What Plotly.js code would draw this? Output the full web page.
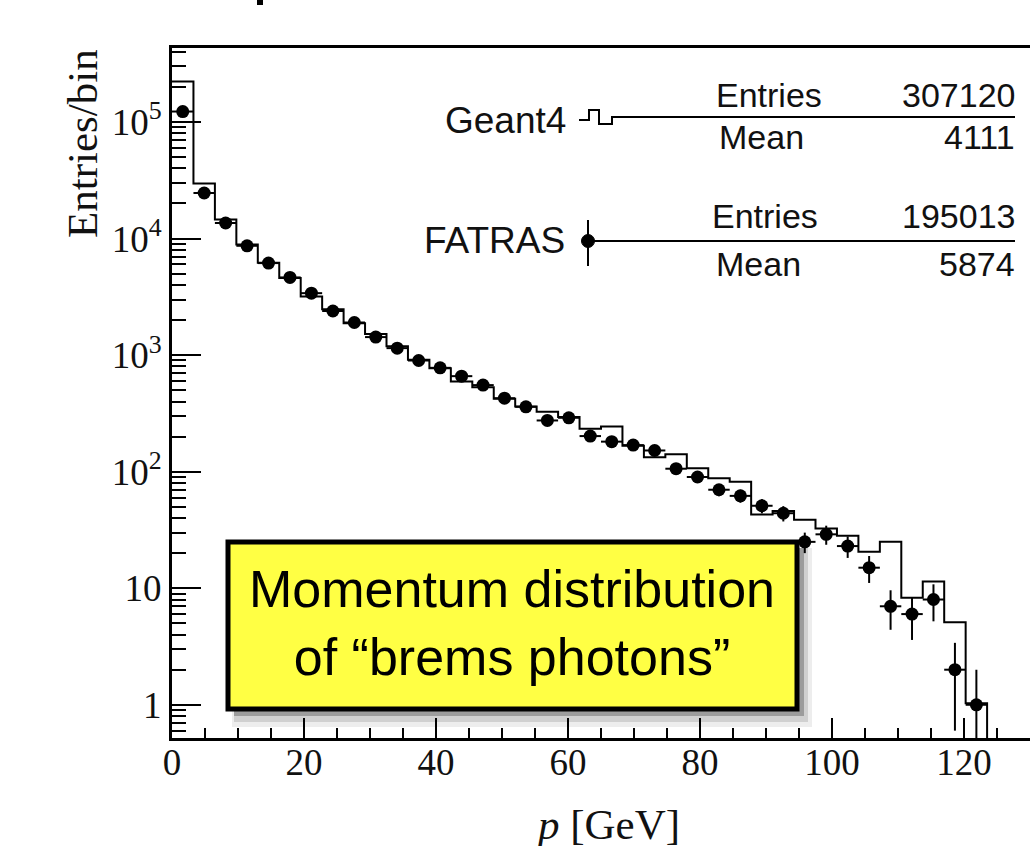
<!DOCTYPE html>
<html>
<head>
<meta charset="utf-8">
<script src="https://cdn.plot.ly/plotly-3.0.1.min.js"></script>
<style>
html,body{margin:0;padding:0;background:#fff;overflow:hidden;}
#chart{width:1030px;height:846px;}
</style>
</head>
<body>
<div id="chart"></div>
<script>
// ---- data ----
const binWidth = 3.25;           // GeV, 40 bins from 0 to 130
const nBins = 40;
const geant4Counts = [223000, 29700, 14600, 8900, 6200, 4580, 3190, 2480, 1880, 1515,
                      1190, 912, 773, 593, 531, 422, 362, 326, 294, 234,
                      244, 167, 133, 141, 107, 88, 82, 43, 46, 38.6,
                      32.5, 28.2, 20.6, 25.1, 8.3, 11.4, 5.1, 1.03, 0, 0];
const fatrasCounts = [123000, 24600, 13600, 8670, 6160, 4640, 3400, 2390, 1905, 1428,
                      1148, 899, 778, 660, 553, 427, 360, 275, 290, 202,
                      181, 169, 152, 106, 90, 70, 62, 51, 44, 25,
                      29, 23, 15, 7, 6, 8, 2, 1];
const fatrasErrors = [351, 157, 117, 93, 78, 68, 58, 49, 44, 38,
                     34, 30, 28, 26, 24, 21, 19, 17, 17, 14,
                     13, 13, 12, 10, 9.5, 8.4, 7.9, 7.1, 6.6, 5,
                     5.4, 4.8, 3.9, 2.6, 2.4, 2.8, 1.4, 1];
const xTickVals = [0, 20, 40, 60, 80, 100, 120];
const xTickText = ["0", "20", "40", "60", "80", "100", "120"];
const yTickVals = [1, 10, 100, 1000, 10000, 100000];
const yTickText = ["1", "10", "10<sup>2</sup>", "10<sup>3</sup>", "10<sup>4</sup>", "10<sup>5</sup>"];
const legendNames = ["Geant4", "FATRAS"];
const statLabels = ["Entries", "Mean"];
const geant4Stats = ["307120", "4111"];
const fatrasStats = ["195013", "5874"];
const boxText = "Momentum distribution<br>of \u201cbrems photons\u201d";
const xTitle = "<i>p</i> [GeV]";
const yTitle = "Entries/bin";

// ---- derived arrays ----
const edges = [];
for (let i = 0; i <= nBins; i++) edges.push(i * binWidth);
const histX = edges.slice();
const histY = geant4Counts.map(v => v > 0 ? v : 1e-3);
histY.push(histY[histY.length - 1]);
const centers = fatrasCounts.map((_, i) => (i + 0.5) * binWidth);
const halfBin = fatrasCounts.map(() => binWidth / 2);

// minor ticks for log axis
const yMinor = [];
for (let e = -1; e <= 5; e++) for (let d = 2; d <= 9; d++) yMinor.push(d * Math.pow(10, e));

// ---- pixel -> paper helpers (layout geometry) ----
const L = 172, R = 1030, T = 48, B = 738;
const px = p => (p - L) / (R - L);
const py = p => (B - p) / (B - T);
function path(pts) {
  return pts.map((p, i) => (i ? "L" : "M") + px(p[0]).toFixed(5) + "," + py(p[1]).toFixed(5)).join(" ");
}

const traces = [
  {
    type: "scatter", mode: "lines", name: legendNames[0],
    x: histX, y: histY,
    line: {shape: "hv", color: "#000", width: 2},
    hoverinfo: "skip"
  },
  {
    type: "scatter", mode: "markers", name: legendNames[1],
    x: centers, y: fatrasCounts,
    marker: {color: "#000", size: 13},
    error_y: {type: "data", array: fatrasErrors, visible: true, color: "#000", thickness: 2, width: 0},
    error_x: {type: "data", array: halfBin, visible: true, color: "#000", thickness: 2, width: 0},
    hoverinfo: "skip"
  }
];

const serif = "Liberation Serif, Times New Roman, serif";
const sans = "Liberation Sans, Arial, Helvetica, sans-serif";

const shapes = [
  // shadow of yellow note
  {type: "rect", xref: "paper", yref: "paper", x0: px(232), x1: px(812), y0: py(548), y1: py(727),
   fillcolor: "rgba(0,0,0,0.07)", line: {width: 0}, layer: "above"},
  {type: "rect", xref: "paper", yref: "paper", x0: px(234), x1: px(808), y0: py(548), y1: py(722),
   fillcolor: "rgba(0,0,0,0.12)", line: {width: 0}, layer: "above"},
  {type: "rect", xref: "paper", yref: "paper", x0: px(234), x1: px(804), y0: py(548), y1: py(716),
   fillcolor: "rgba(0,0,0,0.25)", line: {width: 0}, layer: "above"},
  // yellow note
  {type: "rect", xref: "paper", yref: "paper", x0: px(228), x1: px(797), y0: py(542), y1: py(709),
   fillcolor: "#ffff44", line: {color: "#000", width: 5}, layer: "above"},
  // Geant4 legend symbol + line
  {type: "path", xref: "paper", yref: "paper", layer: "above",
   path: path([[579, 120], [589, 120], [589, 110], [599, 110], [599, 124], [612, 124], [612, 117], [1015, 117]]),
   line: {color: "#000", width: 2}},
  // FATRAS legend symbol + line
  {type: "line", xref: "paper", yref: "paper", layer: "above",
   x0: px(588), x1: px(1015), y0: py(241), y1: py(241), line: {color: "#000", width: 2}},
  {type: "line", xref: "paper", yref: "paper", layer: "above",
   x0: px(588), x1: px(588), y0: py(220), y1: py(266), line: {color: "#000", width: 2}},
  {type: "circle", xref: "paper", yref: "paper", layer: "above",
   x0: px(581.5), x1: px(594.5), y0: py(234.5), y1: py(247.5), fillcolor: "#000", line: {color: "#000", width: 1}},
  // cut-off fragment at top of page
  {type: "rect", xref: "paper", yref: "paper", layer: "above",
   x0: px(257), x1: px(263), y0: py(0), y1: py(5), fillcolor: "#000", line: {width: 0}}
];

function ann(text, x, y, xanchor, size, family, extra) {
  return Object.assign({
    text: text, xref: "paper", yref: "paper", x: px(x), y: py(y),
    xanchor: xanchor, yanchor: "middle", showarrow: false,
    font: {family: family, size: size, color: "#111"}
  }, extra || {});
}

const annotations = [
  ann(legendNames[0], 568, 121, "right", 37, sans),
  ann(legendNames[1], 567, 241, "right", 37, sans),
  ann(statLabels[0], 714, 95, "left", 34, sans),
  ann(statLabels[1], 717, 137, "left", 34, sans),
  ann(geant4Stats[0], 1017, 95, "right", 34, sans),
  ann(geant4Stats[1], 1017, 137, "right", 34, sans),
  ann(statLabels[0], 710, 216, "left", 34, sans),
  ann(statLabels[1], 714, 264, "left", 34, sans),
  ann(fatrasStats[0], 1017, 216, "right", 34, sans),
  ann(fatrasStats[1], 1017, 264, "right", 34, sans),
  ann(boxText, 512, 623, "center", 52, sans, {align: "center", font: {family: sans, size: 52, color: "#000"}}),
  ann(xTitle, 607, 824, "center", 43, serif),
  ann(yTitle, 82, 144, "center", 43, serif, {textangle: -90})
];

const layout = {
  width: 1030, height: 846,
  margin: {l: L, r: 1030 - R, t: T, b: 846 - B, pad: 0},
  paper_bgcolor: "#fff", plot_bgcolor: "#fff",
  showlegend: false,
  xaxis: {
    range: [0, 130], showgrid: false, zeroline: false,
    showline: true, linecolor: "#000", linewidth: 3, mirror: true,
    ticks: "inside", ticklen: 20, tickwidth: 2, tickcolor: "#000",
    tickmode: "array", tickvals: xTickVals, ticktext: xTickText,
    ticklabelstandoff: -10,
    tickfont: {family: serif, size: 37, color: "#111"},
    minor: {dtick: 5, tick0: 0, ticks: "inside", ticklen: 10, tickwidth: 2, tickcolor: "#000", showgrid: false}
  },
  yaxis: {
    type: "log", range: [-0.285, 5.635], showgrid: false, zeroline: false,
    showline: true, linecolor: "#000", linewidth: 3, mirror: false,
    ticks: "inside", ticklen: 29, tickwidth: 2, tickcolor: "#000",
    tickmode: "array", tickvals: yTickVals, ticktext: yTickText,
    tickfont: {family: serif, size: 37, color: "#111"},
    minor: {tickmode: "array", tickvals: yMinor, ticks: "inside", ticklen: 14, tickwidth: 2, tickcolor: "#000", showgrid: false}
  },
  shapes: shapes,
  annotations: annotations
};

Plotly.newPlot("chart", traces, layout, {staticPlot: true, displayModeBar: false});
</script>
</body>
</html>
